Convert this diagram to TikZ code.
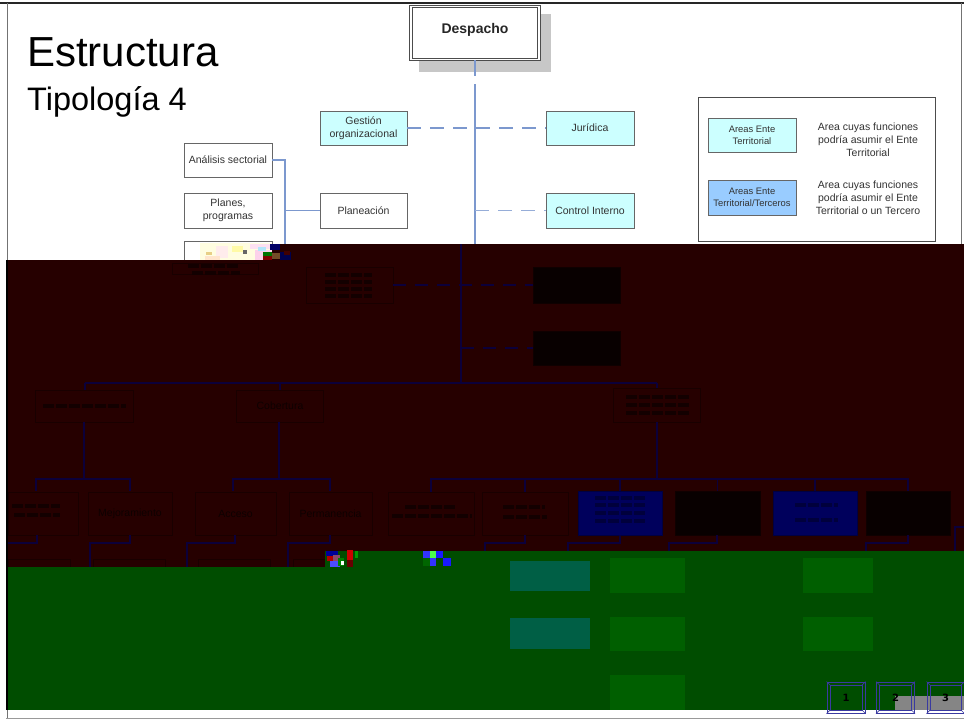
\documentclass[tikz,border=0pt]{standalone}
\usepackage{fontspec}
\setmainfont{Liberation Sans}
\newfontfamily\btnfont{DejaVu Sans}
\definecolor{bandred}{HTML}{260000}
\definecolor{bandgreen}{HTML}{004D00}
\definecolor{linkblue}{HTML}{7C98CE}
\definecolor{darklink}{HTML}{0C003A}
\definecolor{darkedge}{HTML}{190000}
\definecolor{darktext}{HTML}{0E0000}
\definecolor{smudgecol}{HTML}{130000}
\definecolor{cyanbox}{HTML}{CCFFFF}
\definecolor{bluebox}{HTML}{99CCFF}
\definecolor{navyfill}{HTML}{00005C}
\definecolor{tealfill}{HTML}{005F45}
\definecolor{greenfill}{HTML}{005F00}
\definecolor{btnblue}{HTML}{3A3AA0}
\tikzset{
  box/.style={draw=black!60,line width=0.9pt,inner sep=0pt,align=center,font=\fontsize{10.5}{13}\selectfont,text=black!80},
  whitebox/.style={box,fill=white},
  cyanbx/.style={box,fill=cyanbox},
  bluebx/.style={box,fill=bluebox},
  legsize/.style={font=\fontsize{9.4}{12}\selectfont},
  darkbox/.style={draw=darkedge,line width=0.9pt,inner sep=0pt,align=center,font=\fontsize{10.5}{13}\selectfont,text=darktext},
  navybox/.style={fill=navyfill,draw=navyfill!70!black,line width=0.6pt,inner sep=0pt},
  blackbox/.style={fill=black!97!red,draw=black!60!bandred,line width=0.9pt,inner sep=0pt},
  link/.style={draw=linkblue,line width=1.1pt},
  darkline/.style={draw=darklink,line width=1.2pt},
  dashlink/.style={link,dash pattern=on 14pt off 9pt},
  darkdash/.style={darkline,dash pattern=on 13pt off 9pt},
  smudge/.style={draw=smudgecol,line width=3.5pt,dash pattern=on 11pt off 2pt},
  navysmudge/.style={draw=navyfill!65!black,line width=3.5pt,dash pattern=on 11pt off 2pt},
  tealbox/.style={fill=tealfill,inner sep=0pt},
  greenbox/.style={fill=greenfill,inner sep=0pt},
  btnbox/.style={draw=btnblue,line width=1pt,fill=none,inner sep=0pt,font=\btnfont\bfseries\fontsize{10}{12}\selectfont,text=black},
  legendtext/.style={inner sep=0pt,align=center,font=\fontsize{10.5}{13.2}\selectfont,text=black!80},
}
\begin{document}
\begin{tikzpicture}[x=1pt,y=-1pt]
\clip (0,0) rectangle (964,721);
\fill[white] (0,0) rectangle (964,721);
% slide frame
\fill[black!85] (0,2) rectangle (964,4.2);
\draw[black!55,line width=1pt] (7,3) -- (7,718);
\draw[black!40,line width=1.4pt] (6,718.6) -- (964,718.6);
\draw[black!55,line width=1pt] (961.5,3) -- (961.5,260);
% title
\node[anchor=base west,inner sep=0pt,font=\fontsize{42}{44}\selectfont] (title) at (27,66) {Estructura};
\node[anchor=base west,inner sep=0pt,font=\fontsize{32.5}{34}\selectfont] (subtitle) at (27,110) {Tipología 4};
% Despacho
\fill[black!22] (419,14) rectangle (551,72);
\node[draw=black!70,double=white,double distance=1.4pt,line width=0.9pt,fill=white,inner sep=0pt,minimum width=128pt,minimum height=53pt,text=black!85,font=\bfseries\fontsize{14}{16}\selectfont] (desp) at (475,33) {\raisebox{9pt}{Despacho}};
% upper connectors
\coordinate (trunkA) at (475,76);
\coordinate (trunkB) at (475,84);
\coordinate (trunkC) at (475,244);
\coordinate (legBus) at (285,160);
\coordinate (legEnd) at (285,244);
\node[cyanbx,minimum width=87pt,minimum height=34pt] (gest) at (363.5,128) {Gestión\\organizacional};
\node[cyanbx,minimum width=88pt,minimum height=34pt] (jur) at (590,128) {Jurídica};
\node[whitebox,minimum width=87pt,minimum height=35pt] (plan) at (363.5,210.5) {Planeación};
\node[cyanbx,minimum width=88pt,minimum height=35pt] (ctrl) at (590,210.5) {Control Interno};
\node[whitebox,minimum width=88pt,minimum height=34pt] (ana) at (228,160) {Análisis sectorial};
\node[whitebox,minimum width=88pt,minimum height=35pt] (pla) at (228,210.5) {Planes,\\programas};
\node[whitebox,minimum width=88pt,minimum height=34pt] (ter) at (228,258) {};
\draw[link] (desp.south -| trunkA) -- (trunkA);
\draw[link] (trunkB) -- (trunkC);
\draw[dashlink] (gest.east) -- (jur.west);
\draw[dashlink,linkblue!80] (trunkC |- ctrl) -- (ctrl.west);
\draw[link] (ana.east) -| (legEnd);
\draw[link,line width=1.5pt] (plan.west) -- (legBus |- plan);
% legend
\node[draw=black!70,line width=0.9pt,fill=white,minimum width=237pt,minimum height=144pt,inner sep=0pt] (legend) at (816.5,169) {};
\node[cyanbx,legsize,minimum width=88pt,minimum height=34pt] (leg1) at (752,135) {Areas Ente\\Territorial};
\node[bluebx,legsize,minimum width=88pt,minimum height=35pt] (leg2) at (752,197.5) {Areas Ente\\Territorial/Terceros};
\node[legendtext] (legt1) at (868,140) {Area cuyas funciones\\podría asumir el Ente\\Territorial};
\node[legendtext] (legt2) at (868,198) {Area cuyas funciones\\podría asumir el Ente\\Territorial o un Tercero};
% noise in white box
\fill[yellow!12] (200,243) rectangle (272,260);
\foreach \a/\b/\c/\d/\e in {206/252/212/255/yellow!35!brown!60,216/246/228/258/pink!30,232/246/243/252/yellow!35,243/250/247/254/black!60,250/244/272/249/magenta!12,255/250/272/260/magenta!18,258/247/266/251/cyan!30,205/256/220/260/orange!20}
  \fill[\e] (\a,\b) rectangle (\c,\d);
% red band
\fill[bandred] (8,260) -- (272,260) -- (272,244) -- (964,244) -- (964,551) -- (325,551) -- (325,567) -- (8,567) -- cycle;
\fill[black] (6,260) rectangle (8,710);
% noise red band
\foreach \a/\b/\c/\d/\e in {270/244/280/250/blue!40!black,263/252/272/256/green!45!black,263/256/272/260/red!50!black,272/253/280/259/brown!60!black,280/252/291/260/blue!30!black,284/251/290/255/red!25!black}
  \fill[\e] (\a,\b) rectangle (\c,\d);
% red band nodes
\node[darkbox,minimum width=86pt,minimum height=11pt] (bter) at (215,269) {};
\draw[smudge] (188,266) -- (240,266);
\draw[smudge] (192,273) -- (240,273);
\node[darkbox,minimum width=87pt,minimum height=36pt] (insp) at (349.5,285) {};
\foreach \y in {275,282,289,296} \draw[smudge] (325,\y) -- (372,\y);
\node[blackbox,minimum width=87pt,minimum height=36pt] (d1) at (576.5,285) {};
\node[blackbox,minimum width=87pt,minimum height=34pt] (d2) at (576.5,348) {};
\coordinate (t1) at (461,244);
\coordinate (t2) at (461,383);
\coordinate (busL) at (85,383);
\coordinate (busR) at (657,383);
\node[darkbox,minimum width=98pt,minimum height=32pt] (a) at (84.5,406) {};
\draw[smudge] (43,406) -- (126,406);
\node[darkbox,minimum width=87pt,minimum height=32pt] (b) at (280,406) {Cobertura};
\node[darkbox,minimum width=87pt,minimum height=34pt] (c) at (657,405) {};
\foreach \y in {397,405,413} \draw[smudge] (626,\y) -- (690,\y);
\draw[darkline] (t1) -- (t2);
\draw[darkline] (busL) -- (busR);
\draw[darkline] (busL) -- (a.north -| busL);
\draw[darkline] (b.north |- busL) -- (b.north);
\draw[darkline] (busR) -- (c.north -| busR);
\draw[darkdash] (insp.east) -- (d1.west);
\draw[darkdash] (t1 |- d2) -- (d2.west);
% second row
\node[darkbox,minimum width=70pt,minimum height=43pt] (r1) at (43,513.5) {};
\node[darkbox,minimum width=84pt,minimum height=43pt] (r2) at (130,513.5) {Mejoramiento};
\node[darkbox,minimum width=81pt,minimum height=43pt] (r3) at (235.5,513.5) {Acceso};
\node[darkbox,minimum width=83pt,minimum height=43pt] (r4) at (330.5,513.5) {Permanencia};
\node[darkbox,minimum width=86pt,minimum height=43pt] (r5) at (431,513.5) {};
\node[darkbox,minimum width=86pt,minimum height=43pt] (r6) at (525,513.5) {};
\node[navybox,minimum width=84pt,minimum height=44pt] (r7) at (620,513.5) {};
\node[blackbox,minimum width=85pt,minimum height=44pt] (r8) at (717.5,513.5) {};
\node[navybox,minimum width=84pt,minimum height=44pt] (r9) at (815,513.5) {};
\node[blackbox,minimum width=84pt,minimum height=44pt] (r10) at (908,513.5) {};
\draw[smudge] (12,506) -- (60,506);\draw[smudge] (14,515) -- (60,515);
\draw[smudge] (405,507) -- (455,507);\draw[smudge] (392,516) -- (472,516);
\draw[smudge] (503,507) -- (545,507);\draw[smudge] (503,517) -- (547,517);
\foreach \y in {498,505,513,521} \draw[navysmudge] (595,\y) -- (645,\y);
\foreach \y in {505,520} \draw[navysmudge] (795,\y) -- (838,\y);
\coordinate (b1) at (84,479);\coordinate (b2) at (279,479);\coordinate (b3) at (657,479);
\draw[darkline] (a.south -| b1) -- (b1);
\draw[darkline] (b.south -| b2) -- (b2);
\draw[darkline] (c.south -| b3) -- (b3);
\draw[darkline] (36,491) -- (36,479) -- (130,479) -- (130,491);
\draw[darkline] (233,491) -- (233,479) -- (330,479) -- (330,491);
\draw[darkline] (r5.north) |- (b3) -| (r10.north);
\foreach \n in {r6,r7,r8,r9} \draw[darkline] (\n.north) -- (\n.north |- b3);
% below second row
\node[darkbox,minimum width=62pt,minimum height=20pt,anchor=north west] (s1) at (8,559) {};
\node[darkbox,minimum width=72pt,minimum height=20pt,anchor=north west] (s2) at (93,559) {};
\node[darkbox,minimum width=72pt,minimum height=20pt,anchor=north west] (s3) at (198,559) {};
\node[darkbox,minimum width=72pt,minimum height=20pt,anchor=north west] (s4) at (293,559) {};
\draw[darkline] (37,535) -- (37,543) -- (8,543);
\draw[darkline] (130,535) -- (130,543) -- (90,543) -- (90,567);
\draw[darkline] (235,535) -- (235,543) -- (187,543) -- (187,567);
\draw[darkline] (330,535) -- (330,543) -- (288,543) -- (288,567);
\draw[darkline] (525,535) -- (525,543) -- (485,543) -- (485,551);
\draw[darkline] (620,535) -- (620,543) -- (568,543) -- (568,551);
\draw[darkline] (717,535) -- (717,543) -- (669,543) -- (669,551);
\draw[darkline] (908,535) -- (908,543) -- (866,543) -- (866,551);
\draw[darkline] (964,527) -- (955,527) -- (955,551);
% green band
\fill[bandgreen] (8,567) -- (325,567) -- (325,551) -- (964,551) -- (964,710) -- (8,710) -- cycle;
\node[tealbox,minimum width=80pt,minimum height=30pt] (g1) at (550,576) {};
\node[tealbox,minimum width=80pt,minimum height=31pt] (g2) at (550,633.5) {};
\node[greenbox,minimum width=75pt,minimum height=35pt] (g3) at (647.5,575.5) {};
\node[greenbox,minimum width=75pt,minimum height=34pt] (g4) at (647.5,634) {};
\node[greenbox,minimum width=75pt,minimum height=35pt,anchor=north] (g5) at (647.5,675) {};
\node[greenbox,minimum width=70pt,minimum height=35pt] (g6) at (838,575.5) {};
\node[greenbox,minimum width=70pt,minimum height=34pt] (g7) at (838,634) {};
\fill[white] (8,710) rectangle (964,718);
% colour noise
\foreach \a/\b/\c/\d/\e in {326/551/338/556/blue!60!black,327/556/333/561/red!70!black,333/555/340/562/magenta!50!black,330/561/340/567/blue!70,338/558/344/566/green!50!black,341/561/344/565/white,347/550/353/560/red!80!black,347/560/353/567/red!40!black,355/551/358/558/green!60!black,423/551/430/558/blue!80,430/551/436/558/green!70,436/551/443/558/blue!90,443/558/451/566/blue!90,430/558/436/566/blue!80,423/558/430/566/green!40!black}
  \fill[\e] (\a,\b) rectangle (\c,\d);
% page buttons
\fill[black!48] (895,696) rectangle (964,710);
\node[btnbox,minimum width=38pt,minimum height=31pt] (p1) at (846,697.5) {1};
\node[btnbox,minimum width=38pt,minimum height=31pt] (p2) at (895.5,697.5) {2};
\node[btnbox,minimum width=37pt,minimum height=31pt] (p3) at (945.5,697.5) {3};
\foreach \n in {p1,p2,p3}{
  \draw[btnblue,line width=0.8pt] ([shift={(3.5pt,3.5pt)}]\n.south west) rectangle ([shift={(-3.5pt,-3.5pt)}]\n.north east);
  \draw[btnblue,line width=0.7pt] (\n.south west) -- ++(3.5,-3.5) (\n.south east) -- ++(-3.5,-3.5) (\n.north west) -- ++(3.5,3.5) (\n.north east) -- ++(-3.5,3.5);
}
\end{tikzpicture}
\end{document}
